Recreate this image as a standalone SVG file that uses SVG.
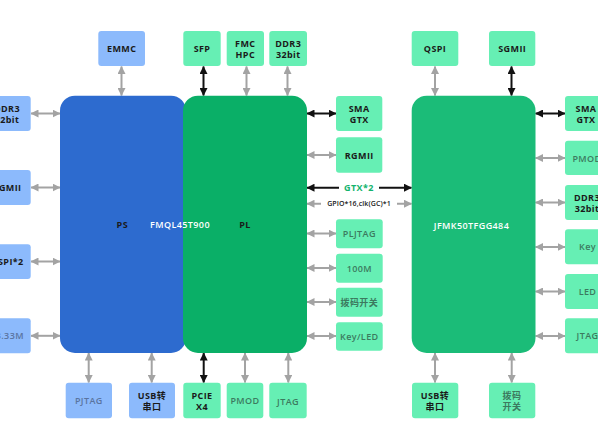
<svg xmlns="http://www.w3.org/2000/svg" width="598" height="432" viewBox="0 0 598 432">
<defs>
<marker id="ag" viewBox="0 0 8 8" refX="7.5" refY="4" markerWidth="8" markerHeight="8" markerUnits="userSpaceOnUse" orient="auto-start-reverse"><path d="M0,0 L8,4 L0,8 Z" fill="#a3a3a3"/></marker>
<marker id="ab" viewBox="0 0 8 8" refX="7.5" refY="4" markerWidth="8" markerHeight="8" markerUnits="userSpaceOnUse" orient="auto-start-reverse"><path d="M0,0 L8,4 L0,8 Z" fill="#111"/></marker>
</defs>
<style>
text{font-family:"Open Sans","Noto Sans","Noto Sans CJK SC",sans-serif;font-size:9px;text-anchor:middle;dominant-baseline:central;letter-spacing:0.4px}
.lb{fill:#8cbafc}
.lg{fill:#66efb4}
.d{fill:#1a1a1a;font-weight:700}
.g{fill:#3c7a5f;font-weight:600}
.gb{fill:#5a74a0;font-weight:600}
.w{fill:#ffffff;font-weight:600}
.cg{stroke:#a3a3a3;stroke-width:2;fill:none;marker-start:url(#ag);marker-end:url(#ag)}
.cb{stroke:#111;stroke-width:2;fill:none;marker-start:url(#ab);marker-end:url(#ab)}
</style>
<rect width="598" height="432" fill="#ffffff"/>

<g id="connectors">
<!-- top -->
<line class="cg" x1="121.5" y1="66.5" x2="121.5" y2="95.5"/>
<line class="cb" x1="203.5" y1="66.5" x2="203.5" y2="95.5"/>
<line class="cg" x1="246.5" y1="66.5" x2="246.5" y2="95.5"/>
<line class="cg" x1="287.5" y1="66.5" x2="287.5" y2="95.5"/>
<line class="cg" x1="435" y1="66.5" x2="435" y2="95.5"/>
<line class="cb" x1="511.5" y1="66.5" x2="511.5" y2="95.5"/>
<!-- left -->
<line class="cg" x1="31" y1="113.5" x2="60" y2="113.5"/>
<line class="cg" x1="31" y1="187.5" x2="60" y2="187.5"/>
<line class="cg" x1="31" y1="261.5" x2="60" y2="261.5"/>
<line class="cg" x1="31" y1="335.8" x2="60" y2="335.8"/>
<!-- PL right -->
<line class="cb" x1="307" y1="113.5" x2="336" y2="113.5"/>
<line class="cg" x1="307" y1="155" x2="336" y2="155"/>
<line class="cg" x1="307" y1="233.5" x2="336" y2="233.5"/>
<line class="cg" x1="307" y1="268" x2="336" y2="268"/>
<line class="cg" x1="307" y1="302" x2="336" y2="302"/>
<line class="cg" x1="307" y1="336" x2="336" y2="336"/>
<line class="cb" x1="307" y1="187.7" x2="411.5" y2="187.7"/>
<line class="cg" x1="307" y1="203.7" x2="411.5" y2="203.7"/>
<!-- JFMK right -->
<line class="cb" x1="535.5" y1="113.5" x2="565" y2="113.5"/>
<line class="cg" x1="535.5" y1="158" x2="565" y2="158"/>
<line class="cg" x1="535.5" y1="202.5" x2="565" y2="202.5"/>
<line class="cg" x1="535.5" y1="247" x2="565" y2="247"/>
<line class="cg" x1="535.5" y1="291.5" x2="565" y2="291.5"/>
<line class="cg" x1="535.5" y1="336" x2="565" y2="336"/>
<!-- bottom -->
<line class="cg" x1="88.7" y1="353" x2="88.7" y2="382.5"/>
<line class="cg" x1="151.7" y1="353" x2="151.7" y2="382.5"/>
<line class="cb" x1="203.7" y1="353" x2="203.7" y2="382.5"/>
<line class="cg" x1="245" y1="353" x2="245" y2="382.5"/>
<line class="cg" x1="288.3" y1="353" x2="288.3" y2="382.5"/>
<line class="cg" x1="435" y1="353" x2="435" y2="382.5"/>
<line class="cg" x1="511.7" y1="353" x2="511.7" y2="382.5"/>
<rect x="339" y="181" width="40" height="13" fill="#ffffff"/>
<text x="359" y="187.7" style="fill:#13b36d;font-weight:700">GTX*2</text>
<rect x="321" y="198.5" width="76" height="10.5" fill="#ffffff"/>
<text x="359" y="203.7" class="d" style="font-size:7px;letter-spacing:0.1px;font-weight:600">GPIO*16,clk(GC)*1</text>
</g>

<g id="PS"><rect x="60" y="95.7" width="126" height="257.3" rx="15" fill="#2d6bcf"/><text x="122.3" y="224.7" class="d">PS</text></g>
<g id="PL"><rect x="183" y="95.7" width="124" height="257.3" rx="15" fill="#0aaf67"/><text x="245" y="224.7" class="d">PL</text></g>
<g id="FMQL"><text x="180" y="224.7" class="w">FMQL45T900</text></g>
<g id="JFMK"><rect x="411.7" y="95.7" width="123.8" height="257.3" rx="15" fill="#1bbc78"/><text x="471.5" y="225.7" class="w">JFMK50TFGG484</text></g>

<!-- top boxes -->
<g id="EMMC"><rect class="lb" x="98.3" y="31" width="46.7" height="35" rx="3"/><text x="121.7" y="48.5" class="d">EMMC</text></g>
<g id="SFP"><rect class="lg" x="183.3" y="31" width="37.4" height="35" rx="3"/><text x="202" y="48.5" class="d">SFP</text></g>
<g id="FMC"><rect class="lg" x="226.7" y="31" width="37.3" height="35" rx="3"/><text x="245.3" y="43" class="d">FMC</text><text x="245.3" y="54" class="d">HPC</text></g>
<g id="DDR3PL"><rect class="lg" x="269.3" y="31" width="37.7" height="35" rx="3"/><text x="288.2" y="43" class="d">DDR3</text><text x="288.2" y="54" class="d">32bit</text></g>
<g id="QSPI"><rect class="lg" x="411.7" y="31" width="46.6" height="35" rx="3"/><text x="435" y="48.5" class="d">QSPI</text></g>
<g id="SGMII"><rect class="lg" x="489" y="31" width="46.3" height="35" rx="3"/><text x="512.2" y="48.5" class="d">SGMII</text></g>

<!-- left boxes -->
<g id="DDR3PS"><rect class="lb" x="-16" y="96" width="46.7" height="35" rx="3"/><text x="7" y="108" class="d">DDR3</text><text x="7" y="119" class="d">32bit</text></g>
<g id="RGMIIPS"><rect class="lb" x="-16" y="170" width="46.7" height="35" rx="3"/><text x="7" y="187.5" class="d">RGMII</text></g>
<g id="QSPI2"><rect class="lb" x="-16" y="244.3" width="46.7" height="34.7" rx="3"/><text x="7" y="261.7" class="d">QSPI*2</text></g>
<g id="CLK"><rect class="lb" x="-16" y="318.3" width="46.7" height="35" rx="3"/><text x="7" y="335.8" class="gb">33.33M</text></g>

<!-- PL right boxes -->
<g id="SMAPL"><rect class="lg" x="336" y="96" width="46.3" height="35" rx="3"/><text x="359.2" y="108" class="d">SMA</text><text x="359.2" y="119" class="d">GTX</text></g>
<g id="RGMIIPL"><rect class="lg" x="336" y="137.3" width="46.3" height="35.4" rx="3"/><text x="359.2" y="155" class="d">RGMII</text></g>
<g id="PLJTAG"><rect class="lg" x="336" y="219.3" width="46.7" height="29" rx="3"/><text x="359.3" y="233.8" class="g">PLJTAG</text></g>
<g id="M100"><rect class="lg" x="336" y="253.7" width="46.7" height="29" rx="3"/><text x="359.3" y="268.2" class="g">100M</text></g>
<g id="DIPPL"><rect class="lg" x="336" y="287.7" width="46.7" height="29" rx="3"/><text x="359.3" y="302.2" class="g">拨码开关</text></g>
<g id="KEYLED"><rect class="lg" x="336" y="322.3" width="46.7" height="28.5" rx="3"/><text x="359.3" y="336.5" class="g">Key/LED</text></g>

<!-- JFMK right boxes -->
<g id="SMAJ"><rect class="lg" x="565" y="96" width="46" height="35" rx="3"/><text x="586" y="108" class="d">SMA</text><text x="586" y="119" class="d">GTX</text></g>
<g id="PMODJ"><rect class="lg" x="565" y="140.7" width="46" height="34.3" rx="3"/><text x="587" y="158" class="g">PMOD</text></g>
<g id="DDR3J"><rect class="lg" x="565" y="185" width="46" height="35" rx="3"/><text x="587" y="197" class="d">DDR3</text><text x="587" y="208" class="d">32bit</text></g>
<g id="KEYJ"><rect class="lg" x="565" y="229.3" width="46" height="35" rx="3"/><text x="587.5" y="246.8" class="g">Key</text></g>
<g id="LEDJ"><rect class="lg" x="565" y="274" width="46" height="35" rx="3"/><text x="587.5" y="291.5" class="g">LED</text></g>
<g id="JTAGJ"><rect class="lg" x="565" y="318.3" width="46" height="35" rx="3"/><text x="587.5" y="335.8" class="g">JTAG</text></g>

<!-- bottom boxes -->
<g id="PJTAG"><rect class="lb" x="65.7" y="382.7" width="46.3" height="35.6" rx="3"/><text x="88.8" y="400.5" class="gb">PJTAG</text></g>
<g id="USBPS"><rect class="lb" x="129" y="382.7" width="46" height="35.6" rx="3"/><text x="152" y="395" class="d">USB转</text><text x="152" y="406" class="d">串口</text></g>
<g id="PCIE"><rect class="lg" x="183.3" y="382.7" width="37.4" height="35.6" rx="3"/><text x="202" y="395" class="d">PCIE</text><text x="202" y="406" class="d">X4</text></g>
<g id="PMODPL"><rect class="lg" x="226.7" y="382.7" width="36.6" height="35.6" rx="3"/><text x="245" y="400.5" class="g">PMOD</text></g>
<g id="JTAGPL"><rect class="lg" x="269.3" y="382.7" width="37.4" height="35.6" rx="3"/><text x="288" y="401" class="g">JTAG</text></g>
<g id="USBJ"><rect class="lg" x="412" y="382.7" width="46.3" height="35.6" rx="3"/><text x="435" y="395" class="d">USB转</text><text x="435" y="406" class="d">串口</text></g>
<g id="DIPJ"><rect class="lg" x="489" y="382.7" width="46.3" height="35.6" rx="3"/><text x="512" y="395" class="g">拨码</text><text x="512" y="406" class="g">开关</text></g>
</svg>
